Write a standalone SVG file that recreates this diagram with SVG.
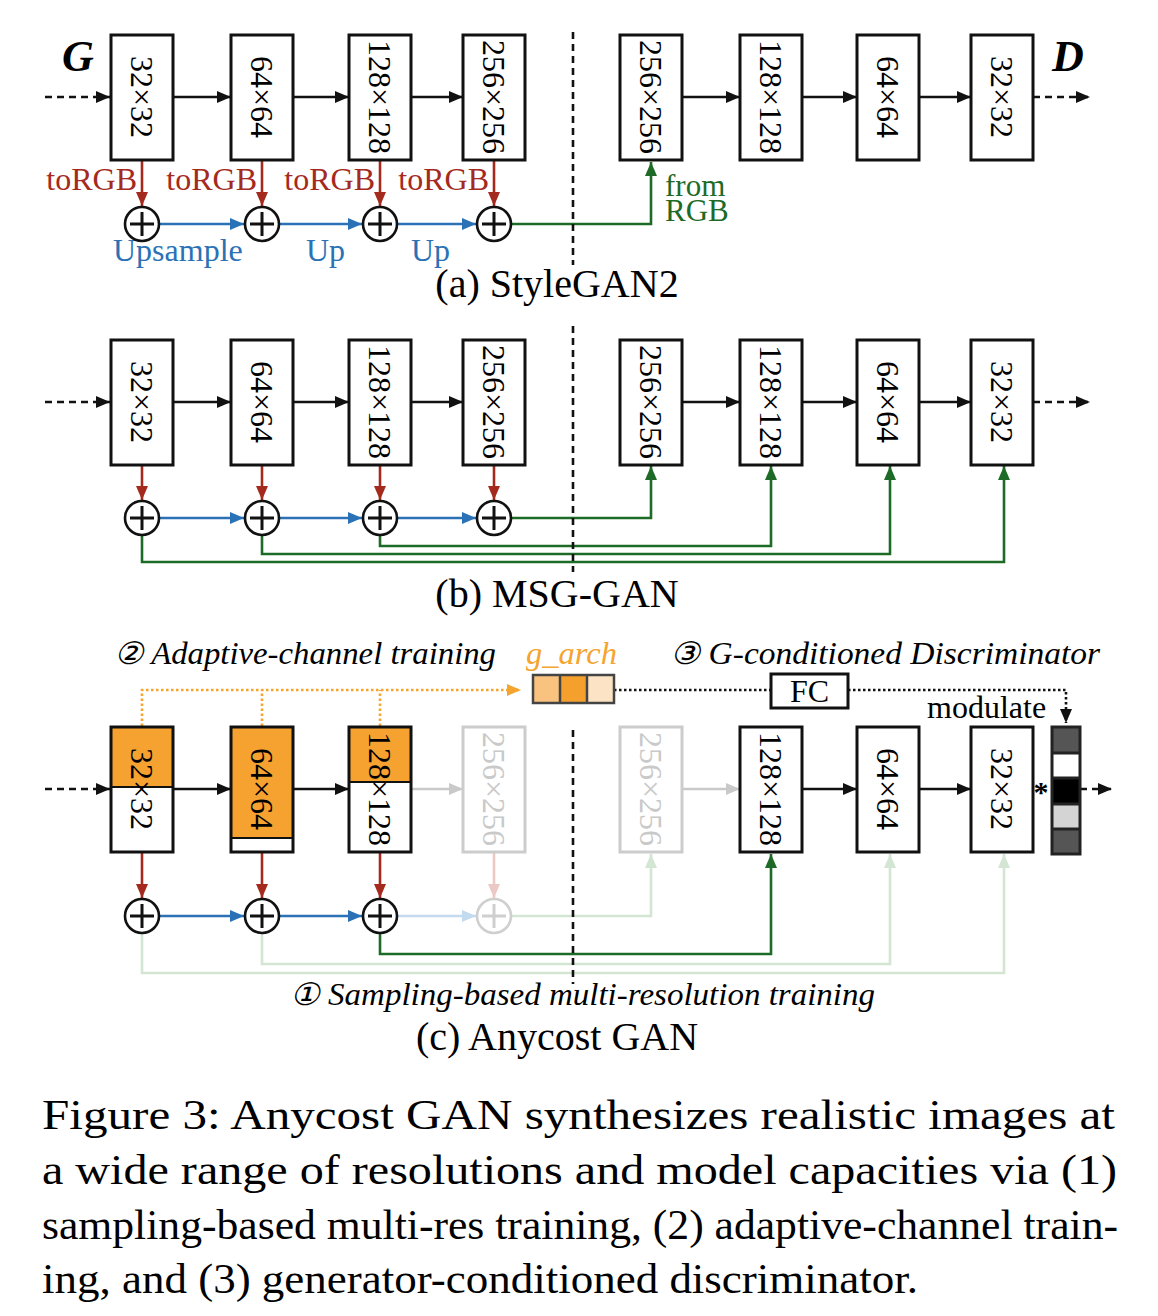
<svg xmlns="http://www.w3.org/2000/svg" width="1158" height="1316" viewBox="0 0 1158 1316">
<style>
text{font-family:"Liberation Serif","Times New Roman",serif;}
.bt{font-size:32px;text-anchor:middle;}
.box{fill:#fff;stroke:#111;stroke-width:3;}
.gbox{fill:#fff;stroke:#cccccc;stroke-width:3;}
.ln{fill:none;stroke-width:2.6;}
.k{stroke:#111;}
.r{stroke:#a52a1e;}
.b{stroke:#2a72b5;}
.g{stroke:#1d6b26;}
.lg{stroke:#d3e5d3;}
.lb{stroke:#c4dbef;}
.lr{stroke:#ecc9c4;}
.gy{stroke:#c9c9c9;}
.dash{stroke-dasharray:7 5;}
.dot{stroke-dasharray:2.5 2.5;}
.circ{fill:#fff;stroke:#111;stroke-width:2.6;}
.plus{stroke:#111;stroke-width:3;}
.lab{font-size:32px;}
.it{font-style:italic;font-size:31px;}
.cap{font-size:42px;}
.title{font-size:40px;text-anchor:middle;}
</style>
<defs>
<marker id="mk" viewBox="0 0 14 12" refX="14" refY="6" markerWidth="14" markerHeight="12" markerUnits="userSpaceOnUse" orient="auto"><path d="M0,0L14,6L0,12z" fill="#111"/></marker>
<marker id="mr" viewBox="0 0 14 12" refX="14" refY="6" markerWidth="14" markerHeight="12" markerUnits="userSpaceOnUse" orient="auto"><path d="M0,0L14,6L0,12z" fill="#a52a1e"/></marker>
<marker id="mb" viewBox="0 0 14 12" refX="14" refY="6" markerWidth="14" markerHeight="12" markerUnits="userSpaceOnUse" orient="auto"><path d="M0,0L14,6L0,12z" fill="#2a72b5"/></marker>
<marker id="mg" viewBox="0 0 14 12" refX="14" refY="6" markerWidth="14" markerHeight="12" markerUnits="userSpaceOnUse" orient="auto"><path d="M0,0L14,6L0,12z" fill="#1d6b26"/></marker>
<marker id="mo" viewBox="0 0 14 12" refX="14" refY="6" markerWidth="14" markerHeight="12" markerUnits="userSpaceOnUse" orient="auto"><path d="M0,0L14,6L0,12z" fill="#f5a42e"/></marker>
<marker id="mlg" viewBox="0 0 14 12" refX="14" refY="6" markerWidth="14" markerHeight="12" markerUnits="userSpaceOnUse" orient="auto"><path d="M0,0L14,6L0,12z" fill="#d3e5d3"/></marker>
<marker id="mlb" viewBox="0 0 14 12" refX="14" refY="6" markerWidth="14" markerHeight="12" markerUnits="userSpaceOnUse" orient="auto"><path d="M0,0L14,6L0,12z" fill="#c4dbef"/></marker>
<marker id="mlr" viewBox="0 0 14 12" refX="14" refY="6" markerWidth="14" markerHeight="12" markerUnits="userSpaceOnUse" orient="auto"><path d="M0,0L14,6L0,12z" fill="#ecc9c4"/></marker>
<marker id="mgy" viewBox="0 0 14 12" refX="14" refY="6" markerWidth="14" markerHeight="12" markerUnits="userSpaceOnUse" orient="auto"><path d="M0,0L14,6L0,12z" fill="#c9c9c9"/></marker>
</defs>

<!-- ===== (a) StyleGAN2 ===== -->
<g id="connectors-a">
<path class="ln k dash" d="M45,97H110" marker-end="url(#mk)"/>
<path class="ln k" d="M173,97H231" marker-end="url(#mk)"/>
<path class="ln k" d="M293,97H349" marker-end="url(#mk)"/>
<path class="ln k" d="M411,97H463" marker-end="url(#mk)"/>
<path class="ln k" d="M682,97H740" marker-end="url(#mk)"/>
<path class="ln k" d="M802,97H857" marker-end="url(#mk)"/>
<path class="ln k" d="M919,97H971" marker-end="url(#mk)"/>
<path class="ln k dash" d="M1033,97H1090" marker-end="url(#mk)"/>
<path class="ln r" d="M142,160V206" marker-end="url(#mr)"/>
<path class="ln r" d="M262,160V206" marker-end="url(#mr)"/>
<path class="ln r" d="M380,160V206" marker-end="url(#mr)"/>
<path class="ln r" d="M494,160V206" marker-end="url(#mr)"/>
<path class="ln b" d="M160,224H244" marker-end="url(#mb)"/>
<path class="ln b" d="M280,224H362" marker-end="url(#mb)"/>
<path class="ln b" d="M398,224H476" marker-end="url(#mb)"/>
<path class="ln g" d="M512,224H651V162" marker-end="url(#mg)"/>
<path class="ln k dash" d="M573,32V265" stroke-width="2.2"/>
</g>
<g id="labels-a">
<text x="62" y="71" font-size="44" font-weight="bold" font-style="italic">G</text>
<text x="1052" y="71" font-size="44" font-weight="bold" font-style="italic">D</text>
<text class="lab" x="137" y="190" text-anchor="end" fill="#a52a1e">toRGB</text>
<text class="lab" x="257" y="190" text-anchor="end" fill="#a52a1e">toRGB</text>
<text class="lab" x="375" y="190" text-anchor="end" fill="#a52a1e">toRGB</text>
<text class="lab" x="489" y="190" text-anchor="end" fill="#a52a1e">toRGB</text>
<text class="lab" x="113" y="261" fill="#2a72b5">Upsample</text>
<text class="lab" x="306" y="261" fill="#2a72b5">Up</text>
<text class="lab" x="411" y="261" fill="#2a72b5">Up</text>
<text x="665" y="196" font-size="31" fill="#1d6b26">from</text>
<text x="665" y="221" font-size="31" fill="#1d6b26">RGB</text>
<text class="title" x="557" y="297">(a) StyleGAN2</text>
</g>
<g id="a-g32"><rect class="box" x="111" y="35" width="62" height="125"/><text class="bt" transform="translate(142,97) rotate(90)" dy="0.35em">32×32</text></g>
<g id="a-g64"><rect class="box" x="231" y="35" width="62" height="125"/><text class="bt" transform="translate(262,97) rotate(90)" dy="0.35em">64×64</text></g>
<g id="a-g128"><rect class="box" x="349" y="35" width="62" height="125"/><text class="bt" transform="translate(380,97) rotate(90)" dy="0.35em">128×128</text></g>
<g id="a-g256"><rect class="box" x="463" y="35" width="62" height="125"/><text class="bt" transform="translate(494,97) rotate(90)" dy="0.35em">256×256</text></g>
<g id="a-d256"><rect class="box" x="620" y="35" width="62" height="125"/><text class="bt" transform="translate(651,97) rotate(90)" dy="0.35em">256×256</text></g>
<g id="a-d128"><rect class="box" x="740" y="35" width="62" height="125"/><text class="bt" transform="translate(771,97) rotate(90)" dy="0.35em">128×128</text></g>
<g id="a-d64"><rect class="box" x="857" y="35" width="62" height="125"/><text class="bt" transform="translate(888,97) rotate(90)" dy="0.35em">64×64</text></g>
<g id="a-d32"><rect class="box" x="971" y="35" width="62" height="125"/><text class="bt" transform="translate(1002,97) rotate(90)" dy="0.35em">32×32</text></g>
<g id="a-plus1"><circle class="circ" cx="142" cy="224" r="17"/><path class="plus" d="M130,224H154M142,212V236"/></g>
<g id="a-plus2"><circle class="circ" cx="262" cy="224" r="17"/><path class="plus" d="M250,224H274M262,212V236"/></g>
<g id="a-plus3"><circle class="circ" cx="380" cy="224" r="17"/><path class="plus" d="M368,224H392M380,212V236"/></g>
<g id="a-plus4"><circle class="circ" cx="494" cy="224" r="17"/><path class="plus" d="M482,224H506M494,212V236"/></g>

<!-- ===== (b) MSG-GAN ===== -->
<g id="connectors-b">
<path class="ln k dash" d="M45,402H110" marker-end="url(#mk)"/>
<path class="ln k" d="M173,402H231" marker-end="url(#mk)"/>
<path class="ln k" d="M293,402H349" marker-end="url(#mk)"/>
<path class="ln k" d="M411,402H463" marker-end="url(#mk)"/>
<path class="ln k" d="M682,402H740" marker-end="url(#mk)"/>
<path class="ln k" d="M802,402H857" marker-end="url(#mk)"/>
<path class="ln k" d="M919,402H971" marker-end="url(#mk)"/>
<path class="ln k dash" d="M1033,402H1090" marker-end="url(#mk)"/>
<path class="ln r" d="M142,465V500" marker-end="url(#mr)"/>
<path class="ln r" d="M262,465V500" marker-end="url(#mr)"/>
<path class="ln r" d="M380,465V500" marker-end="url(#mr)"/>
<path class="ln r" d="M494,465V500" marker-end="url(#mr)"/>
<path class="ln b" d="M160,518H244" marker-end="url(#mb)"/>
<path class="ln b" d="M280,518H362" marker-end="url(#mb)"/>
<path class="ln b" d="M398,518H476" marker-end="url(#mb)"/>
<path class="ln g" d="M512,518H651V466" marker-end="url(#mg)"/>
<path class="ln g" d="M380,536V546H771V466" marker-end="url(#mg)"/>
<path class="ln g" d="M262,536V554H890V466" marker-end="url(#mg)"/>
<path class="ln g" d="M142,536V562H1004V466" marker-end="url(#mg)"/>
<path class="ln k dash" d="M573,326V572" stroke-width="2.2"/>
</g>
<g id="labels-b">
<text class="title" x="557" y="607">(b) MSG-GAN</text>
</g>
<g id="b-g32"><rect class="box" x="111" y="340" width="62" height="125"/><text class="bt" transform="translate(142,402) rotate(90)" dy="0.35em">32×32</text></g>
<g id="b-g64"><rect class="box" x="231" y="340" width="62" height="125"/><text class="bt" transform="translate(262,402) rotate(90)" dy="0.35em">64×64</text></g>
<g id="b-g128"><rect class="box" x="349" y="340" width="62" height="125"/><text class="bt" transform="translate(380,402) rotate(90)" dy="0.35em">128×128</text></g>
<g id="b-g256"><rect class="box" x="463" y="340" width="62" height="125"/><text class="bt" transform="translate(494,402) rotate(90)" dy="0.35em">256×256</text></g>
<g id="b-d256"><rect class="box" x="620" y="340" width="62" height="125"/><text class="bt" transform="translate(651,402) rotate(90)" dy="0.35em">256×256</text></g>
<g id="b-d128"><rect class="box" x="740" y="340" width="62" height="125"/><text class="bt" transform="translate(771,402) rotate(90)" dy="0.35em">128×128</text></g>
<g id="b-d64"><rect class="box" x="857" y="340" width="62" height="125"/><text class="bt" transform="translate(888,402) rotate(90)" dy="0.35em">64×64</text></g>
<g id="b-d32"><rect class="box" x="971" y="340" width="62" height="125"/><text class="bt" transform="translate(1002,402) rotate(90)" dy="0.35em">32×32</text></g>
<g id="b-plus1"><circle class="circ" cx="142" cy="518" r="17"/><path class="plus" d="M130,518H154M142,506V530"/></g>
<g id="b-plus2"><circle class="circ" cx="262" cy="518" r="17"/><path class="plus" d="M250,518H274M262,506V530"/></g>
<g id="b-plus3"><circle class="circ" cx="380" cy="518" r="17"/><path class="plus" d="M368,518H392M380,506V530"/></g>
<g id="b-plus4"><circle class="circ" cx="494" cy="518" r="17"/><path class="plus" d="M482,518H506M494,506V530"/></g>

<!-- ===== (c) Anycost GAN ===== -->
<g id="connectors-c">
<path class="ln dot" stroke="#f5a42e" d="M142,726V690H521" marker-end="url(#mo)"/>
<path class="ln dot" stroke="#f5a42e" d="M262,726V690"/>
<path class="ln dot" stroke="#f5a42e" d="M380,726V690"/>
<path class="ln k dot" d="M614,690H771"/>
<path class="ln k dot" d="M848,690H1066V723" marker-end="url(#mk)"/>
<path class="ln k dash" d="M45,789H110" marker-end="url(#mk)"/>
<path class="ln k" d="M173,789H231" marker-end="url(#mk)"/>
<path class="ln k" d="M293,789H349" marker-end="url(#mk)"/>
<path class="ln gy" d="M411,789H463" marker-end="url(#mgy)"/>
<path class="ln gy" d="M682,789H740" marker-end="url(#mgy)"/>
<path class="ln k" d="M802,789H857" marker-end="url(#mk)"/>
<path class="ln k" d="M919,789H971" marker-end="url(#mk)"/>
<path class="ln k dash" d="M1080,789H1112" marker-end="url(#mk)"/>
<path class="ln r" d="M142,852V898" marker-end="url(#mr)"/>
<path class="ln r" d="M262,852V898" marker-end="url(#mr)"/>
<path class="ln r" d="M380,852V898" marker-end="url(#mr)"/>
<path class="ln lr" d="M494,852V898" marker-end="url(#mlr)"/>
<path class="ln b" d="M160,916H244" marker-end="url(#mb)"/>
<path class="ln b" d="M280,916H362" marker-end="url(#mb)"/>
<path class="ln lb" d="M398,916H476" marker-end="url(#mlb)"/>
<path class="ln lg" d="M512,916H651V854" marker-end="url(#mlg)"/>
<path class="ln lg" d="M262,934V964H890V854" marker-end="url(#mlg)"/>
<path class="ln lg" d="M142,934V973H1004V854" marker-end="url(#mlg)"/>
<path class="ln g" d="M380,934V954H771V854" marker-end="url(#mg)"/>
<path class="ln k dash" d="M573,730V984" stroke-width="2.2"/>
</g>
<g id="labels-c">
<text class="it" x="114" y="664" textLength="382" lengthAdjust="spacingAndGlyphs">② Adaptive-channel training</text>
<text class="it" x="526" y="664" fill="#f5a42e" textLength="91" lengthAdjust="spacingAndGlyphs">g_arch</text>
<text class="it" x="670" y="664" textLength="430" lengthAdjust="spacingAndGlyphs">③ G-conditioned  Discriminator</text>
<text class="lab" x="927" y="718">modulate</text>
<text x="1041" y="802" font-size="30" text-anchor="middle" font-weight="bold">*</text>
<text class="it" x="290" y="1005" textLength="585" lengthAdjust="spacingAndGlyphs">① Sampling-based multi-resolution training</text>
<text class="title" x="557" y="1050">(c) Anycost GAN</text>
</g>
<g id="c-garch">
<rect x="533" y="675" width="27" height="28" fill="#f9c27f"/>
<rect x="560" y="675" width="27" height="28" fill="#f5a02d"/>
<rect x="587" y="675" width="27" height="28" fill="#fde3c5"/>
<path d="M533,675H614V703H533zM560,675V703M587,675V703" fill="none" stroke="#444" stroke-width="2.5"/>
</g>
<g id="c-fc"><rect class="box" x="771" y="674" width="77" height="34"/><text x="809.5" y="702" font-size="32" text-anchor="middle">FC</text></g>
<g id="c-g32"><rect x="111" y="727" width="62" height="125" fill="#fff"/><rect x="111" y="727" width="62" height="60" fill="#f5a231"/><path d="M111,787H173" stroke="#111" stroke-width="2"/><rect x="111" y="727" width="62" height="125" fill="none" stroke="#111" stroke-width="3"/><text class="bt" transform="translate(142,789) rotate(90)" dy="0.35em">32×32</text></g>
<g id="c-g64"><rect x="231" y="727" width="62" height="125" fill="#fff"/><rect x="231" y="727" width="62" height="111" fill="#f5a231"/><path d="M231,838H293" stroke="#111" stroke-width="2"/><rect x="231" y="727" width="62" height="125" fill="none" stroke="#111" stroke-width="3"/><text class="bt" transform="translate(262,789) rotate(90)" dy="0.35em">64×64</text></g>
<g id="c-g128"><rect x="349" y="727" width="62" height="125" fill="#fff"/><rect x="349" y="727" width="62" height="55" fill="#f5a231"/><path d="M349,782H411" stroke="#111" stroke-width="2"/><rect x="349" y="727" width="62" height="125" fill="none" stroke="#111" stroke-width="3"/><text class="bt" transform="translate(380,789) rotate(90)" dy="0.35em">128×128</text></g>
<g id="c-g256"><rect class="gbox" x="463" y="727" width="62" height="125"/><text class="bt" fill="#c9c9c9" transform="translate(494,789) rotate(90)" dy="0.35em">256×256</text></g>
<g id="c-d256"><rect class="gbox" x="620" y="727" width="62" height="125"/><text class="bt" fill="#c9c9c9" transform="translate(651,789) rotate(90)" dy="0.35em">256×256</text></g>
<g id="c-d128"><rect class="box" x="740" y="727" width="62" height="125"/><text class="bt" transform="translate(771,789) rotate(90)" dy="0.35em">128×128</text></g>
<g id="c-d64"><rect class="box" x="857" y="727" width="62" height="125"/><text class="bt" transform="translate(888,789) rotate(90)" dy="0.35em">64×64</text></g>
<g id="c-d32"><rect class="box" x="971" y="727" width="62" height="125"/><text class="bt" transform="translate(1002,789) rotate(90)" dy="0.35em">32×32</text></g>
<g id="c-mod">
<rect x="1052" y="727" width="28" height="26" fill="#555"/>
<rect x="1052" y="753" width="28" height="25" fill="#fff"/>
<rect x="1052" y="778" width="28" height="26" fill="#000"/>
<rect x="1052" y="804" width="28" height="25" fill="#d4d4d4"/>
<rect x="1052" y="829" width="28" height="25" fill="#555"/>
<path d="M1052,727H1080V854H1052zM1052,753H1080M1052,778H1080M1052,804H1080M1052,829H1080" fill="none" stroke="#222" stroke-width="3"/>
</g>
<g id="c-plus1"><circle class="circ" cx="142" cy="916" r="17"/><path class="plus" d="M130,916H154M142,904V928"/></g>
<g id="c-plus2"><circle class="circ" cx="262" cy="916" r="17"/><path class="plus" d="M250,916H274M262,904V928"/></g>
<g id="c-plus3"><circle class="circ" cx="380" cy="916" r="17"/><path class="plus" d="M368,916H392M380,904V928"/></g>
<g id="c-plus4"><circle cx="494" cy="916" r="17" fill="#fff" stroke="#cfcfcf" stroke-width="2.6"/><path d="M482,916H506M494,904V928" stroke="#cfcfcf" stroke-width="3"/></g>

<!-- ===== caption ===== -->
<g id="caption">
<text class="cap" x="42" y="1129" textLength="1073" lengthAdjust="spacingAndGlyphs">Figure 3:  Anycost GAN synthesizes realistic images at</text>
<text class="cap" x="42" y="1184" textLength="1075" lengthAdjust="spacingAndGlyphs">a wide range of resolutions and model capacities via (1)</text>
<text class="cap" x="42" y="1239" textLength="1076" lengthAdjust="spacingAndGlyphs">sampling-based multi-res training, (2) adaptive-channel train-</text>
<text class="cap" x="42" y="1293" textLength="876" lengthAdjust="spacingAndGlyphs">ing, and (3) generator-conditioned discriminator.</text>
</g>
</svg>
